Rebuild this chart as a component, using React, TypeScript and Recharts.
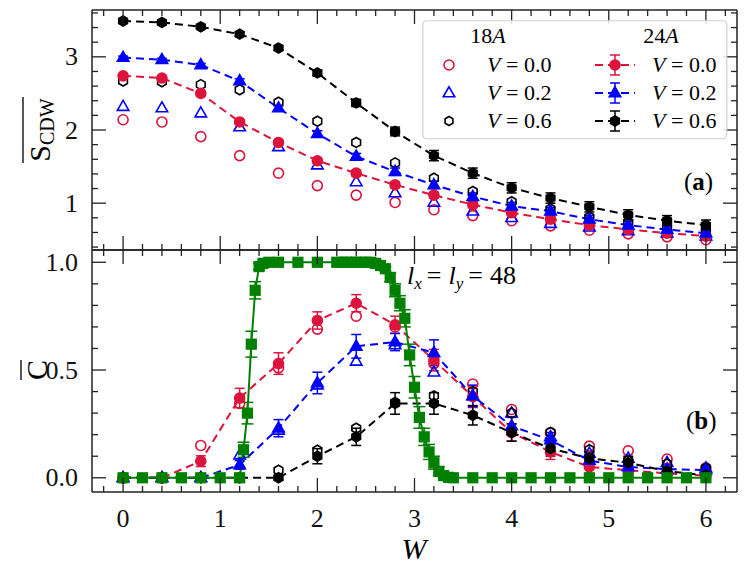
import React from 'react';
import { ComposedChart, Line, XAxis, YAxis, ErrorBar, Legend, ReferenceLine } from 'recharts';

// disorder strengths for the 18A / 24A runs
const W_VALUES = [0, 0.4, 0.8, 1.2, 1.6, 2.0, 2.4, 2.8, 3.2, 3.6, 4.0, 4.4, 4.8, 5.2, 5.6, 6.0];

// panel (a): S_CDW
const s18V00 = [2.14, 2.11, 1.91, 1.65, 1.41, 1.24, 1.11, 1.01, 0.91, 0.83, 0.76, 0.69, 0.63, 0.58, 0.54, 0.5];
const s18V02 = [2.32, 2.3, 2.23, 2.04, 1.77, 1.52, 1.29, 1.14, 1.01, 0.89, 0.8, 0.72, 0.67, 0.62, 0.59, 0.55];
const s18V06 = [2.67, 2.66, 2.62, 2.55, 2.38, 2.12, 1.83, 1.55, 1.34, 1.16, 1.02, 0.92, 0.81, 0.74, 0.67, 0.62];
const s24V00 = [2.74, 2.71, 2.5, 2.11, 1.83, 1.58, 1.41, 1.25, 1.11, 0.98, 0.87, 0.78, 0.7, 0.64, 0.59, 0.55];
const s24V02 = [2.99, 2.96, 2.89, 2.67, 2.3, 1.95, 1.64, 1.43, 1.25, 1.09, 0.96, 0.89, 0.78, 0.7, 0.64, 0.59];
const s24V06 = [3.49, 3.47, 3.41, 3.31, 3.12, 2.78, 2.37, 1.98, 1.65, 1.41, 1.21, 1.07, 0.95, 0.84, 0.76, 0.7];
const s24V00Err = [0.02, 0.02, 0.03, 0.03, 0.03, 0.03, 0.04, 0.04, 0.04, 0.04, 0.04, 0.04, 0.04, 0.04, 0.04, 0.04];
const s24V02Err = [0.02, 0.02, 0.02, 0.03, 0.03, 0.04, 0.04, 0.05, 0.05, 0.05, 0.05, 0.05, 0.05, 0.05, 0.05, 0.05];
const s24V06Err = [0.02, 0.02, 0.02, 0.03, 0.03, 0.04, 0.05, 0.06, 0.07, 0.07, 0.07, 0.07, 0.07, 0.07, 0.07, 0.07];

// panel (b): C
const c18V00 = [0, 0, 0.15, 0.345, 0.51, 0.69, 0.75, 0.7, 0.53, 0.435, 0.317, 0.21, 0.147, 0.125, 0.087, 0.046];
const c18V02 = [0, 0, 0, 0.105, 0.22, 0.43, 0.54, 0.616, 0.49, 0.38, 0.3, 0.19, 0.113, 0.09, 0.07, 0.045];
const c18V06 = [0, 0, 0, 0, 0.035, 0.128, 0.23, 0.35, 0.38, 0.4, 0.3, 0.21, 0.13, 0.08, 0.064, 0.045];
const c24V00 = [0, 0, 0.077, 0.37, 0.53, 0.73, 0.81, 0.71, 0.546, 0.376, 0.21, 0.12, 0.05, 0.035, 0.02, 0.01];
const c24V02 = [0, 0, 0, 0.06, 0.23, 0.44, 0.61, 0.63, 0.58, 0.38, 0.24, 0.175, 0.08, 0.05, 0.04, 0.036];
const c24V06 = [0, 0, 0, 0, 0, 0.1, 0.19, 0.345, 0.345, 0.29, 0.21, 0.136, 0.09, 0.07, 0.03, 0.012];
const c24V00Err = [0, 0, 0.025, 0.045, 0.05, 0.04, 0.04, 0.04, 0.05, 0.05, 0.04, 0.035, 0.03, 0.025, 0.02, 0.015];
const c24V02Err = [0, 0, 0, 0.02, 0.04, 0.05, 0.055, 0.04, 0.06, 0.05, 0.04, 0.035, 0.03, 0.025, 0.02, 0.015];
const c24V06Err = [0, 0, 0, 0, 0.01, 0.035, 0.04, 0.05, 0.05, 0.045, 0.04, 0.035, 0.03, 0.03, 0.02, 0.02];

// l_x = l_y = 48 curve (green)
const W_L48 = [0, 0.2, 0.4, 0.6, 0.8, 1.0, 1.2, 1.24, 1.28, 1.32, 1.36, 1.4, 1.44, 1.5, 1.6, 1.8, 2.0, 2.2,
  2.25, 2.3, 2.35, 2.4, 2.45, 2.5, 2.55, 2.6, 2.65, 2.7, 2.75, 2.8, 2.85, 2.9, 2.95, 3.0, 3.05, 3.1, 3.15,
  3.2, 3.25, 3.3, 3.35, 3.4, 3.6, 3.8, 4.0, 4.2, 4.4, 4.6, 4.8, 5.0, 5.2, 5.4, 5.6, 5.8, 6.0];
const cL48 = [0, 0, 0, 0, 0, 0, 0, 0.13, 0.3, 0.62, 0.87, 0.98, 0.995, 1, 1, 1, 1, 1,
  1, 1, 1, 1, 1, 1, 1, 0.995, 0.985, 0.97, 0.93, 0.87, 0.81, 0.74, 0.57, 0.42, 0.28, 0.19, 0.12,
  0.07, 0.03, 0.01, 0.002, 0, 0, 0, 0, 0, 0, 0, 0, 0, 0, 0, 0, 0, 0];
const cL48Err = [0, 0, 0, 0, 0, 0, 0, 0.035, 0.05, 0.06, 0.04, 0.015, 0.005, 0, 0, 0, 0, 0,
  0, 0, 0, 0, 0, 0, 0, 0, 0, 0.01, 0.02, 0.03, 0.035, 0.04, 0.05, 0.05, 0.05, 0.04, 0.035,
  0.03, 0.02, 0.01, 0, 0, 0, 0, 0, 0, 0, 0, 0, 0, 0, 0, 0, 0, 0];

// ticks (major + minor)
const X_MAJOR = [0, 1, 2, 3, 4, 5, 6];
const X_TICKS = [-0.2, 0, 0.2, 0.4, 0.6, 0.8, 1, 1.2, 1.4, 1.6, 1.8, 2, 2.2, 2.4, 2.6, 2.8, 3, 3.2, 3.4, 3.6, 3.8,
  4, 4.2, 4.4, 4.6, 4.8, 5, 5.2, 5.4, 5.6, 5.8, 6, 6.2];
const S_MAJOR = [1, 2, 3];
const S_TICKS = [0.4, 0.6, 0.8, 1, 1.2, 1.4, 1.6, 1.8, 2, 2.2, 2.4, 2.6, 2.8, 3, 3.2, 3.4, 3.6];
const C_MAJOR = [0, 0.5, 1];
const C_TICKS = [0, 0.1, 0.2, 0.3, 0.4, 0.5, 0.6, 0.7, 0.8, 0.9, 1];

const X_DOMAIN: [number, number] = [-0.32, 6.32];
const S_DOMAIN: [number, number] = [0.36, 3.64];
const C_DOMAIN: [number, number] = [-0.066, 1.057];

const RED = '#DC143C';
const BLUE = '#0000FF';
const BLACK = '#000000';
const GREEN = '#008000';
const AXIS = '#222222';
const FONT = '"Liberation Serif", "Times New Roman", serif';

// plot box, in chart-local pixels
const PLOT_LEFT = 92;
const PLOT_RIGHT = 737;

// one table per panel, keyed by W
const idx = (w: number) => W_VALUES.findIndex((x) => Math.abs(x - w) < 1e-9);

const topData = W_VALUES.map((w, i) => ({
  w,
  o00: s18V00[i], o02: s18V02[i], o06: s18V06[i],
  f00: s24V00[i], f00e: s24V00Err[i],
  f02: s24V02[i], f02e: s24V02Err[i],
  f06: s24V06[i], f06e: s24V06Err[i],
}));

const bottomData = W_L48.map((w, k) => {
  const i = idx(w);
  const at = (arr: number[]) => (i >= 0 ? arr[i] : undefined);
  return {
    w,
    o00: at(c18V00), o02: at(c18V02), o06: at(c18V06),
    f00: at(c24V00), f00e: at(c24V00Err),
    f02: at(c24V02), f02e: at(c24V02Err),
    f06: at(c24V06), f06e: at(c24V06Err),
    g: cL48[k], ge: cL48Err[k],
  };
});

type Shape = 'circle' | 'triangle' | 'hexagon' | 'square';

function Marker({ cx, cy, shape, color, filled, r = 5 }: any) {
  if (cx == null || cy == null || Number.isNaN(cy)) return null;
  const p = { fill: filled ? color : 'none', stroke: color, strokeWidth: 1.6 };
  if (shape === 'circle') return <circle cx={cx} cy={cy} r={r} {...p} />;
  if (shape === 'square') return <rect x={cx - r} y={cy - r} width={2 * r} height={2 * r} {...p} />;
  if (shape === 'triangle') {
    const pts = `${cx},${cy - r * 1.25} ${cx - r * 1.15},${cy + r * 0.75} ${cx + r * 1.15},${cy + r * 0.75}`;
    return <polygon points={pts} {...p} />;
  }
  const pts = [0, 1, 2, 3, 4, 5]
    .map((k) => {
      const a = Math.PI / 2 + (k * Math.PI) / 3;
      return `${cx + r * Math.cos(a)},${cy - r * Math.sin(a)}`;
    })
    .join(' ');
  return <polygon points={pts} {...p} />;
}

const dotFn = (shape: Shape, color: string, filled: boolean, r = 5) => (props: any) =>
  props.value == null
    ? <g key={`m${props.index}`} />
    : <Marker key={`m${props.index}`} cx={props.cx} cy={props.cy} shape={shape} color={color} filled={filled} r={r} />;

const isMajor = (major: number[], v: number) => major.some((m) => Math.abs(m - v) < 1e-9);

// x ticks: inward marks on bottom and top edge, labels only on the lower panel
const xTick = (plotTop: number, plotBottom: number, labels: boolean) => (props: any) => {
  const { x, payload } = props;
  const major = isMajor(X_MAJOR, payload.value);
  const len = major ? 14 : 6;
  return (
    <g>
      <line x1={x} x2={x} y1={plotBottom} y2={plotBottom - len} stroke={AXIS} strokeWidth={1.3} />
      <line x1={x} x2={x} y1={plotTop} y2={plotTop + len} stroke={AXIS} strokeWidth={1.3} />
      {labels && major && (
        <text x={x} y={plotBottom + 35} textAnchor="middle" fill="#111" fontSize={26} fontFamily={FONT}>
          {payload.value}
        </text>
      )}
    </g>
  );
};

// y ticks: inward marks on left and right edge, labels on the left
const yTick = (major: number[], fmt: (v: number) => string) => (props: any) => {
  const { y, payload } = props;
  const isM = isMajor(major, payload.value);
  const len = isM ? 14 : 6;
  return (
    <g>
      <line x1={PLOT_LEFT} x2={PLOT_LEFT + len} y1={y} y2={y} stroke={AXIS} strokeWidth={1.3} />
      <line x1={PLOT_RIGHT} x2={PLOT_RIGHT - len} y1={y} y2={y} stroke={AXIS} strokeWidth={1.3} />
      {isM && (
        <text x={PLOT_LEFT - 14} y={y} dy="0.33em" textAnchor="end" fill="#111" fontSize={26} fontFamily={FONT}>
          {fmt(payload.value)}
        </text>
      )}
    </g>
  );
};

function frame(domain: [number, number]) {
  return [
    <ReferenceLine key="fl" x={X_DOMAIN[0]} stroke={AXIS} strokeWidth={1.5} ifOverflow="visible" />,
    <ReferenceLine key="fr" x={X_DOMAIN[1]} stroke={AXIS} strokeWidth={1.5} ifOverflow="visible" />,
    <ReferenceLine key="fb" y={domain[0]} stroke={AXIS} strokeWidth={1.5} ifOverflow="visible" />,
    <ReferenceLine key="ft" y={domain[1]} stroke={AXIS} strokeWidth={1.5} ifOverflow="visible" />,
  ];
}

function openSeries(key: string, shape: Shape, color: string) {
  return (
    <Line key={key} dataKey={key} stroke="none" strokeWidth={0}
      dot={dotFn(shape, color, false)} activeDot={false} legendType="none" isAnimationActive={false} />
  );
}

function filledSeries(key: string, shape: Shape, color: string) {
  return (
    <Line key={key} type="linear" dataKey={key} stroke={color} connectNulls
      strokeWidth={2} strokeDasharray="8 5" dot={dotFn(shape, color, true)} activeDot={false}
      legendType="none" isAnimationActive={false}>
      <ErrorBar dataKey={`${key}e`} width={5} stroke={color} strokeWidth={1.5} direction="y" isAnimationActive={false} />
    </Line>
  );
}

function LegendBox() {
  const rowsY = [52, 80, 108];
  const labels = ['0.0', '0.2', '0.6'];
  const shapes: Shape[] = ['circle', 'triangle', 'hexagon'];
  const colors = [RED, BLUE, BLACK];
  return (
    <svg width={306} height={120} style={{ display: 'block' }}>
      <rect x={0.75} y={0.75} width={304} height={118} rx={4} fill="#fff" fillOpacity={0.85} stroke="#cfcfcf" strokeWidth={1.2} />
      <text x={66} y={23} textAnchor="middle" fontFamily={FONT} fontSize={22}>18<tspan fontStyle="italic">A</tspan></text>
      <text x={239} y={23} textAnchor="middle" fontFamily={FONT} fontSize={22}>24<tspan fontStyle="italic">A</tspan></text>
      {rowsY.map((y, i) => (
        <g key={i}>
          <Marker cx={27} cy={y - 7} shape={shapes[i]} color={colors[i]} filled={false} r={i === 2 ? 4.5 : 5} />
          <text x={65} y={y} fontFamily={FONT} fontSize={22}>
            <tspan fontStyle="italic">V</tspan> = {labels[i]}
          </text>
          <line x1={173} y1={y - 7} x2={213} y2={y - 7} stroke={colors[i]} strokeWidth={2} strokeDasharray="8 5" />
          <line x1={193} y1={y - 17} x2={193} y2={y + 3} stroke={colors[i]} strokeWidth={1.5} />
          <line x1={188} y1={y - 17} x2={198} y2={y - 17} stroke={colors[i]} strokeWidth={1.5} />
          <line x1={188} y1={y + 3} x2={198} y2={y + 3} stroke={colors[i]} strokeWidth={1.5} />
          <Marker cx={193} cy={y - 7} shape={shapes[i]} color={colors[i]} filled r={5} />
          <text x={230} y={y} fontFamily={FONT} fontSize={22}>
            <tspan fontStyle="italic">V</tspan> = {labels[i]}
          </text>
        </g>
      ))}
    </svg>
  );
}

export default function App() {
  return (
    <div style={{ position: 'absolute', left: 0, top: 0, width: 748, height: 574, background: '#fff', fontFamily: FONT }}>
      <div style={{ position: 'absolute', left: 0, top: 0 }}>
        <ComposedChart width={748} height={260} data={topData} margin={{ top: 10, right: 11, bottom: 9, left: 32 }}>
          <XAxis dataKey="w" type="number" domain={X_DOMAIN} allowDataOverflow ticks={X_TICKS} interval={0}
            height={1} axisLine={false} tickLine={false} tick={xTick(10, 250, false)} />
          <YAxis type="number" domain={S_DOMAIN} allowDataOverflow ticks={S_TICKS} interval={0} width={60}
            axisLine={false} tickLine={false} tick={yTick(S_MAJOR, (v) => String(v))} />
          {frame(S_DOMAIN)}
          {openSeries('o00', 'circle', RED)}
          {openSeries('o02', 'triangle', BLUE)}
          {openSeries('o06', 'hexagon', BLACK)}
          {filledSeries('f00', 'circle', RED)}
          {filledSeries('f02', 'triangle', BLUE)}
          {filledSeries('f06', 'hexagon', BLACK)}
          <Legend content={() => <LegendBox />} layout="vertical" align="center" verticalAlign="middle"
            wrapperStyle={{ position: 'absolute', left: 422, top: 20, width: 306, height: 120 }} />
        </ComposedChart>
      </div>
      <div style={{ position: 'absolute', left: 0, top: 240 }}>
        <ComposedChart width={748} height={334} data={bottomData} margin={{ top: 10, right: 11, bottom: 0, left: 32 }}>
          <XAxis dataKey="w" type="number" domain={X_DOMAIN} allowDataOverflow ticks={X_TICKS} interval={0}
            height={82} axisLine={false} tickLine={false} tick={xTick(10, 252, true)} />
          <YAxis type="number" domain={C_DOMAIN} allowDataOverflow ticks={C_TICKS} interval={0} width={60}
            axisLine={false} tickLine={false} tick={yTick(C_MAJOR, (v) => v.toFixed(1))} />
          {frame(C_DOMAIN)}
          {openSeries('o00', 'circle', RED)}
          {openSeries('o02', 'triangle', BLUE)}
          {openSeries('o06', 'hexagon', BLACK)}
          {filledSeries('f00', 'circle', RED)}
          {filledSeries('f02', 'triangle', BLUE)}
          {filledSeries('f06', 'hexagon', BLACK)}
          <Line type="linear" dataKey="g" stroke={GREEN}
            strokeWidth={2} dot={dotFn('square', GREEN, true, 4.8)} activeDot={false} legendType="none"
            isAnimationActive={false}>
            <ErrorBar dataKey="ge" width={6} stroke={GREEN} strokeWidth={1.5} direction="y" isAnimationActive={false} />
          </Line>
        </ComposedChart>
      </div>
      <svg width={748} height={574} style={{ position: 'absolute', left: 0, top: 0, pointerEvents: 'none' }}>
        <g transform="translate(50,130) rotate(-90)" fontFamily={FONT}>
          <text x={0} y={0} textAnchor="middle" fontSize={30}>
            S<tspan fontSize={20} dy={4}>CDW</tspan>
          </text>
          <line x1={-33} y1={-27} x2={33} y2={-27} stroke="#111" strokeWidth={1.4} />
        </g>
        <g transform="translate(47,370) rotate(-90)" fontFamily={FONT}>
          <text x={0} y={0} textAnchor="middle" fontSize={30}>C</text>
          <line x1={-10} y1={-26} x2={10} y2={-26} stroke="#111" strokeWidth={1.4} />
        </g>
        <text x={414} y={559} textAnchor="middle" fontFamily={FONT} fontSize={30} fontStyle="italic">W</text>
        <text x={684} y={190} fontFamily={FONT} fontSize={25}>(<tspan fontWeight="bold">a</tspan>)</text>
        <text x={686} y={429} fontFamily={FONT} fontSize={25}>(<tspan fontWeight="bold">b</tspan>)</text>
        <text x={407} y={284} fontFamily={FONT} fontSize={26}>
          <tspan fontStyle="italic">l</tspan><tspan fontStyle="italic" fontSize={17} dy={5}>x</tspan>
          <tspan dy={-5} dx={5}>=</tspan><tspan fontStyle="italic" dx={7}>l</tspan>
          <tspan fontStyle="italic" fontSize={17} dy={5}>y</tspan><tspan dy={-5} dx={5}>=</tspan>
          <tspan dx={7}>48</tspan>
        </text>
      </svg>
    </div>
  );
}
